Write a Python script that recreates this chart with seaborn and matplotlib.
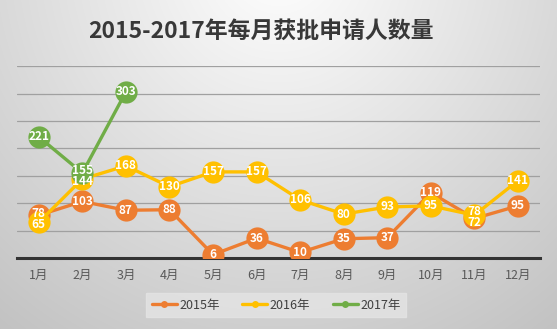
import numpy as np
import pandas as pd
import matplotlib
matplotlib.use("Agg")
import matplotlib.pyplot as plt
import seaborn as sns
from matplotlib.lines import Line2D

months = ["1月", "2月", "3月", "4月", "5月", "6月", "7月", "8月", "9月", "10月", "11月", "12月"]
y2015 = [78, 103, 87, 88, 6, 36, 10, 35, 37, 119, 72, 95]
y2016 = [65, 144, 168, 130, 157, 157, 106, 80, 93, 95, 78, 141]
y2017 = [221, 155, 303]
series_names = ["2015年", "2016年", "2017年"]
colors = ["#ED7D31", "#FFC000", "#70AD47"]
all_series = [y2015, y2016, y2017]

rows = []
for name, vals in zip(series_names, all_series):
    for i, v in enumerate(vals):
        rows.append({"month": i, "value": v, "year": name})
df = pd.DataFrame(rows)

sns.set_theme(style="white")
plt.rcParams['font.family'] = ['Noto Sans CJK SC', 'DejaVu Sans']

fig = plt.figure(figsize=(5.57, 3.29), dpi=100)

# gradient background
bg = fig.add_axes([0, 0, 1, 1], zorder=-10)
h, w = 329, 557
yy, xx = np.mgrid[0:h, 0:w]
cx, cy = w / 2, -40
d = np.sqrt(((xx - cx) / (w * 0.75)) ** 2 + ((yy - cy) / (h * 1.3)) ** 2)
val = 1.0 - 0.22 * np.clip(d, 0, 1.2)
img = np.dstack([val, val, val])
bg.imshow(img, aspect="auto", extent=[0, 1, 0, 1])
bg.axis("off")

ax_h_px = 0.583 * h
ax = fig.add_axes([0.0305, 0.216, 0.9385, 0.583])
ax.patch.set_alpha(0)

sns.lineplot(data=df, x="month", y="value", hue="year", palette=colors,
             marker="o", markersize=16, markeredgewidth=0, linewidth=2.4,
             ax=ax, legend=False, zorder=3)

# label offsets: push apart labels that sit too close together
px_per_unit = ax_h_px / 350.0
min_sep_px = 11.0
offsets = {}
for m in range(12):
    items = [(k, s[m]) for k, s in enumerate(all_series) if m < len(s)]
    for a in range(len(items)):
        for b in range(a + 1, len(items)):
            ka, va_ = items[a]
            kb, vb = items[b]
            dpx = abs(va_ - vb) * px_per_unit
            if dpx < min_sep_px:
                push = (min_sep_px - dpx) / 2
                hi, lo = (ka, kb) if va_ >= vb else (kb, ka)
                offsets[(hi, m)] = offsets.get((hi, m), 0) + push
                offsets[(lo, m)] = offsets.get((lo, m), 0) - push

for k, (name, vals, c) in enumerate(zip(series_names, all_series, colors)):
    for i, v in enumerate(vals):
        off_pt = offsets.get((k, i), 0) * 0.72
        ax.annotate(str(v), (i, v), xytext=(0, off_pt), textcoords="offset points",
                    ha="center", va="center", color="white",
                    fontsize=8.5, fontweight="bold", zorder=10)

ax.set_xlim(-0.5, 11.5)
ax.set_ylim(0, 350)
ax.set_yticks(np.arange(0, 351, 50))
ax.set_yticklabels([])
ax.tick_params(axis="y", length=0)
ax.yaxis.grid(True, color="#a0a0a0", linewidth=0.9)
ax.set_axisbelow(True)
ax.set_xticks(range(12))
ax.set_xticklabels(months, fontsize=9, color="#595959")
ax.tick_params(axis="x", length=0, pad=8)
for s in ["top", "right", "left"]:
    ax.spines[s].set_visible(False)
ax.spines["bottom"].set_color("#333333")
ax.spines["bottom"].set_linewidth(2.2)
ax.set_xlabel("")
ax.set_ylabel("")

handles = [Line2D([0], [0], color=c, lw=2.4, marker="o", markersize=5, markeredgewidth=0)
           for c in colors]
leg = fig.legend(handles, series_names, loc="center", bbox_to_anchor=(0.4955, 0.072),
                 ncol=3, frameon=True, fontsize=9, handlelength=2.0, columnspacing=1.8,
                 handletextpad=0.2, fancybox=False, borderpad=0.45)
leg.get_frame().set_facecolor("#e4e4e4")
leg.get_frame().set_edgecolor("#e4e4e4")
for t in leg.get_texts():
    t.set_color("#404040")

fig.text(0.468, 0.905, "2015-2017年每月获批申请人数量", ha="center", va="center",
         fontsize=16.5, fontweight="bold", color="#383838")

fig.savefig("out.png", dpi=100)
